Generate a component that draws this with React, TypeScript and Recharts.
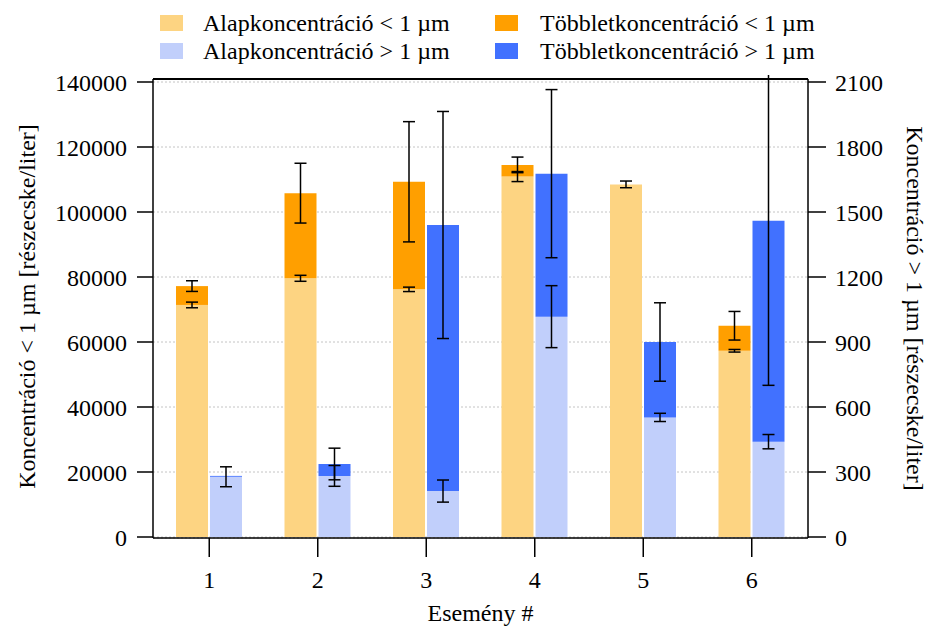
import React from "react";
import { Bar, BarChart, CartesianGrid, ErrorBar, Legend, ReferenceLine, XAxis, YAxis } from "recharts";

// Esemény (event) numbers on the x axis
const events = ["1", "2", "3", "4", "5", "6"];

// < 1 µm, left axis [részecske/liter]
const baseSmall = [71400, 79600, 76200, 110900, 108500, 57300];
const baseSmallErr = [870, 920, 680, 1540, 1030, 400];
const excessSmall = [5800, 26200, 33100, 3600, 0, 7700];
const excessSmallErr = [1640, 9200, 18500, 2400, 0, 4400];

// > 1 µm, right axis [részecske/liter]
const baseLarge = [278, 282, 212, 1017, 552, 440];
const baseLargeErr = [46, 48, 51, 143, 19, 33];
const excessLarge = [4, 55, 1228, 660, 348, 1020];
const excessLargeErr = [0, 73, 524, 388, 181, 760];

const leftTicks = [0, 20000, 40000, 60000, 80000, 100000, 120000, 140000];
const rightTicks = [0, 300, 600, 900, 1200, 1500, 1800, 2100];

const legendItems = [
  { name: "Alapkoncentráció < 1 µm", color: "#FDD482" },
  { name: "Többletkoncentráció < 1 µm", color: "#FF9F00" },
  { name: "Alapkoncentráció > 1 µm", color: "#C1CFFB" },
  { name: "Többletkoncentráció > 1 µm", color: "#4171FF" },
];

const data = events.map((event, i) => ({
  event,
  baseSmall: baseSmall[i],
  baseSmallErr: baseSmallErr[i],
  excessSmall: excessSmall[i],
  excessSmallErr: excessSmallErr[i],
  baseLarge: baseLarge[i],
  baseLargeErr: baseLargeErr[i],
  excessLarge: excessLarge[i],
  excessLargeErr: excessLargeErr[i],
}));

const FONT = '"Liberation Serif", "DejaVu Serif", serif';
const tickStyle = { fill: "#000", fontSize: 24, fontFamily: FONT };
const axisLine = { stroke: "#000", strokeWidth: 1.5 };

// the left scale leaves 3px of padding above 140000; the frame sits at the very top
const PLOT_TOP_VALUE = 140000 + (3 * 140000) / 455;

function ChartLegend() {
  // two columns, two rows, as in the original
  const cols = [160, 495];
  const rows = [11, 39];
  const order = [0, 2, 1, 3];
  return (
    <div style={{ position: "relative", width: 928, height: 70, fontFamily: FONT }}>
      {order.map((idx, k) => {
        const item = legendItems[idx];
        const left = cols[Math.floor(k / 2)];
        const top = rows[k % 2];
        return (
          <div key={item.name} style={{ position: "absolute", left, top, height: 24 }}>
            <span
              style={{
                position: "absolute",
                left: 0,
                top: 4,
                width: 23,
                height: 16,
                background: item.color,
              }}
            />
            <span
              style={{
                position: "absolute",
                left: k < 2 ? 43 : 45,
                top: 0,
                fontSize: 24,
                lineHeight: "24px",
                whiteSpace: "nowrap",
                color: "#000",
              }}
            >
              {item.name}
            </span>
          </div>
        );
      })}
    </div>
  );
}

export default function App() {
  return (
    <div style={{ position: "absolute", left: 0, top: 0, width: 928, height: 628, background: "#fff" }}>
      <BarChart
        width={928}
        height={628}
        data={data}
        margin={{ top: 79, right: 0, bottom: 0, left: 0 }}
        barCategoryGap={21}
        barGap={2}
        style={{ fontFamily: FONT }}
      >
        <CartesianGrid
          yAxisId="left"
          vertical={false}
          stroke="#c4c4c4"
          strokeDasharray="2 2"
        />
        <XAxis
          dataKey="event"
          height={90}
          padding={{ left: 2, right: 2 }}
          tick={tickStyle}
          tickSize={19}
          tickMargin={14}
          axisLine={axisLine}
          tickLine={axisLine}
          label={{
            value: "Esemény #",
            position: "insideBottom",
            offset: 7,
            fill: "#000",
            fontSize: 24,
            fontFamily: FONT,
          }}
        />
        <YAxis
          yAxisId="left"
          width={153}
          domain={[0, 140000]}
          ticks={leftTicks}
          allowDataOverflow
          padding={{ top: 3, bottom: 1 }}
          tick={tickStyle}
          tickSize={16}
          tickMargin={10}
          axisLine={axisLine}
          tickLine={axisLine}
          label={{
            value: "Koncentráció < 1 µm [részecske/liter]",
            angle: -90,
            position: "insideLeft",
            offset: 26,
            dy: -2,
            fill: "#000",
            fontSize: 24,
            fontFamily: FONT,
            style: { textAnchor: "middle" },
          }}
        />
        <YAxis
          yAxisId="right"
          orientation="right"
          width={120}
          domain={[0, 2100]}
          ticks={rightTicks}
          allowDataOverflow
          padding={{ top: 3, bottom: 1 }}
          tick={tickStyle}
          tickSize={18}
          tickMargin={9}
          axisLine={axisLine}
          tickLine={axisLine}
          label={{
            value: "Koncentráció > 1 µm [részecske/liter]",
            angle: 90,
            position: "insideRight",
            offset: 12,
            fill: "#000",
            fontSize: 24,
            fontFamily: FONT,
            style: { textAnchor: "middle" },
          }}
        />
        <Legend
          layout="horizontal"
          verticalAlign="middle"
          align="center"
          wrapperStyle={{ top: 0, left: 0, width: 928, zIndex: 2 }}
          content={() => <ChartLegend />}
        />

        <Bar yAxisId="left" stackId="small" dataKey="baseSmall" fill={legendItems[0].color} isAnimationActive={false}>
          <ErrorBar dataKey="baseSmallErr" width={6} stroke="#000" strokeWidth={1.5} direction="y" />
        </Bar>
        <Bar yAxisId="left" stackId="small" dataKey="excessSmall" fill={legendItems[1].color} isAnimationActive={false}>
          <ErrorBar dataKey="excessSmallErr" width={6} stroke="#000" strokeWidth={1.5} direction="y" />
        </Bar>
        <Bar yAxisId="right" stackId="large" dataKey="baseLarge" fill={legendItems[2].color} isAnimationActive={false}>
          <ErrorBar dataKey="baseLargeErr" width={6} stroke="#000" strokeWidth={1.5} direction="y" />
        </Bar>
        <Bar yAxisId="right" stackId="large" dataKey="excessLarge" fill={legendItems[3].color} isAnimationActive={false}>
          <ErrorBar dataKey="excessLargeErr" width={6} stroke="#000" strokeWidth={1.5} direction="y" />
        </Bar>

        {/* top edge of the plot frame */}
        <ReferenceLine yAxisId="left" y={PLOT_TOP_VALUE} stroke="#000" strokeWidth={2} ifOverflow="visible" />
      </BarChart>
      {/* hides error bars running above the plot frame */}
      <div
        style={{
          position: "absolute",
          left: 152.5,
          top: 0,
          width: 656.5,
          height: 75,
          background: "#fff",
          zIndex: 1,
        }}
      />
    </div>
  );
}
